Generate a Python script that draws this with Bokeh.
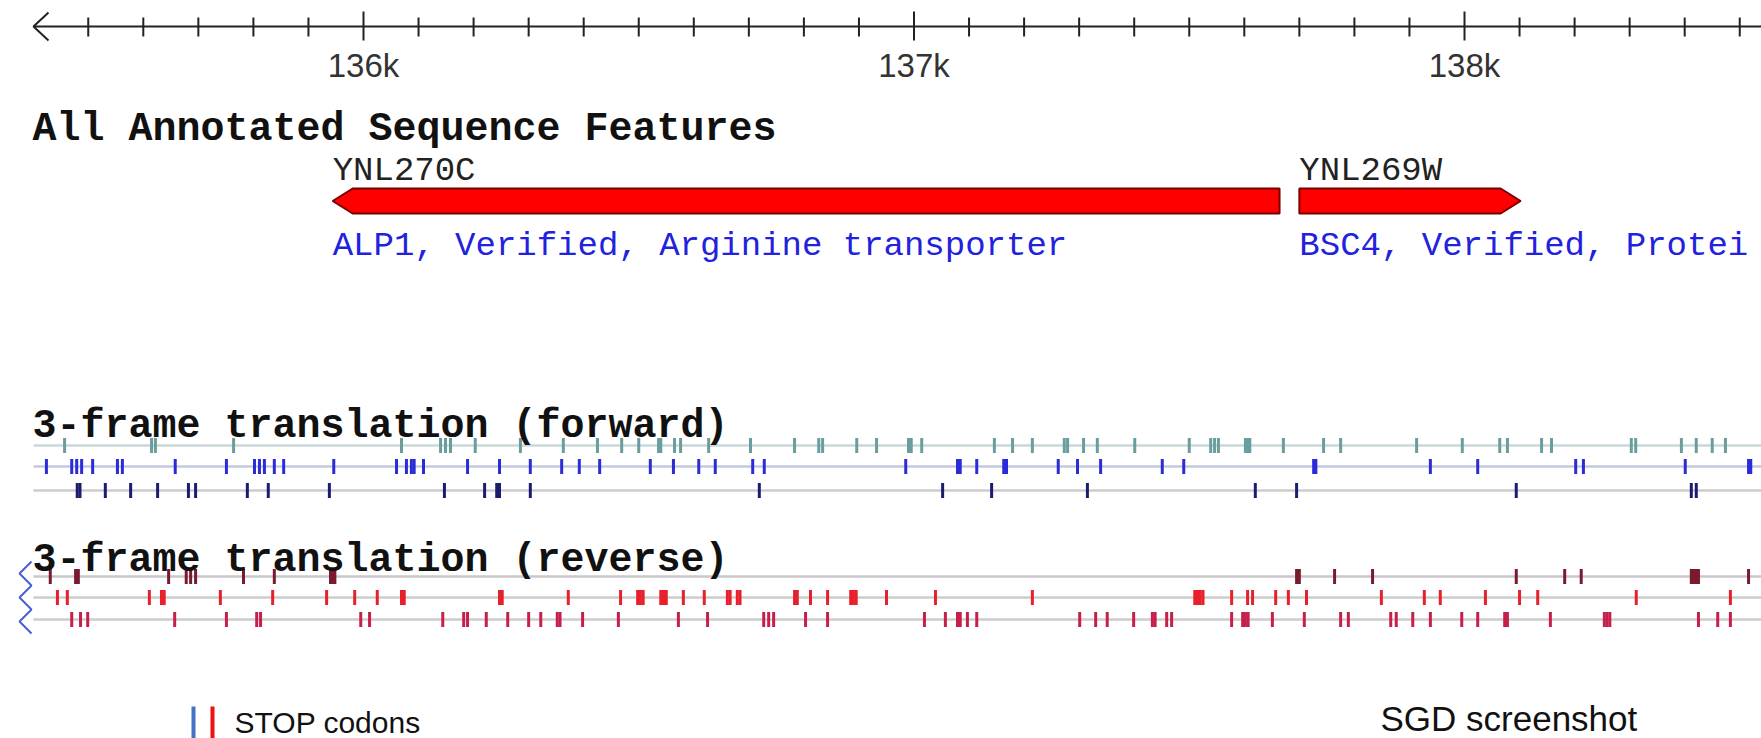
import numpy as np
from bokeh.plotting import figure
from bokeh.models import Range1d, Label
from bokeh.embed import file_html
from bokeh.resources import INLINE
from bokeh.core.properties import value

# ---------------- data (chromosome XIV coordinates, bp) ----------------
ruler_major = [136000, 137000, 138000]
ruler_labels = ["136k", "137k", "138k"]
ruler_minor_step = 100
ruler_first, ruler_last = 135500, 138500

gene_names = ["YNL270C", "YNL269W"]
gene_start = [135944, 137700]
gene_end = [137664, 138102]
gene_strand = [-1, 1]
gene_desc = ["ALP1, Verified, Arginine transporter", "BSC4, Verified, Protei"]

# stop codon positions per reading frame
fwd_frame1 = [135457, 135615, 135622, 135764, 136069, 136140, 136149, 136158, 136203,
              136285, 136363, 136425, 136469, 136500, 136536, 136540, 136565, 136576,
              136627, 136703, 136783, 136827, 136834, 136896, 136932, 136990, 136995,
              137014, 137146, 137179, 137215, 137273, 137279, 137308, 137333, 137401,
              137500, 137539, 137546, 137553, 137602, 137606, 137610, 137671, 137744,
              137775, 137913, 137996, 138064, 138078, 138140, 138158, 138303, 138311,
              138394, 138421, 138450, 138474]
fwd_frame2 = [135424, 135470, 135479, 135488, 135508, 135553, 135562, 135658, 135751,
              135802, 135811, 135820, 135838, 135855, 135946, 136060, 136078, 136087,
              136092, 136109, 136189, 136247, 136303, 136360, 136392, 136429, 136521,
              136563, 136609, 136639, 136707, 136728, 136985, 137079, 137084, 137114,
              137163, 137168, 137262, 137297, 137339, 137451, 137490, 137726, 137730,
              137938, 138024, 138202, 138216, 138401, 138516, 138520]
fwd_frame3 = [135480, 135485, 135531, 135577, 135626, 135682, 135695, 135789, 135827,
              135938, 136147, 136220, 136242, 136247, 136303, 136719, 137052, 137141,
              137315, 137620, 137695, 138094, 138412, 138421]
rev_frame1 = [135431, 135477, 135482, 135646, 135678, 135686, 135695, 135782, 135838,
              135940, 135944, 135948, 137695, 137700, 137764, 137833, 138094, 138182,
              138212, 138412, 138416, 138420, 138425, 138516]
rev_frame2 = [135444, 135462, 135611, 135633, 135638, 135740, 135835, 135933, 135984,
              136025, 136069, 136074, 136247, 136252, 136372, 136467, 136498, 136503,
              136508, 136540, 136545, 136550, 136581, 136619, 136661, 136666, 136679,
              136684, 136783, 136788, 136812, 136843, 136885, 136890, 136895, 136950,
              137039, 137215, 137510, 137515, 137520, 137525, 137577, 137606, 137615,
              137657, 137680, 137713, 137849, 137927, 137956, 138038, 138100, 138133,
              138312, 138483]
rev_frame3 = [135470, 135486, 135499, 135657, 135751, 135806, 135813, 135995, 136011,
              136144, 136182, 136189, 136223, 136262, 136300, 136322, 136352, 136357,
              136398, 136463, 136572, 136625, 136727, 136736, 136745, 136803, 136843,
              137019, 137057, 137079, 137084, 137097, 137114, 137301, 137330, 137351,
              137399, 137433, 137438, 137459, 137468, 137577, 137597, 137602, 137607,
              137651, 137709, 137775, 137789, 137866, 137876, 137906, 137938, 137995,
              138024, 138073, 138078, 138156, 138254, 138259, 138264, 138425, 138460,
              138483]

# ---------------- layout ----------------
W, H = 1761, 738
PX_PER_BP = 0.5505
X0 = 136000 - 363 / PX_PER_BP
X1 = X0 + W / PX_PER_BP


def px2bp(px):
    """page pixel column -> bp (used for layout items only)"""
    return X0 + px / PX_PER_BP


p = figure(width=W, height=H, x_range=Range1d(X0, X1), y_range=Range1d(H, 0),
           output_backend="svg", toolbar_location=None, min_border=0,
           x_axis_location=None, y_axis_location=None)
p.grid.visible = False
p.outline_line_color = None
p.background_fill_color = "white"
p.border_fill_color = "white"

INK = "#222222"
# ---- ruler ----
AX_Y = 26
tip = px2bp(33)
p.segment(x0=[tip], y0=[AX_Y], x1=[X1], y1=[AX_Y], line_color=INK, line_width=2)
p.line(x=[px2bp(48), tip, px2bp(48)], y=[AX_Y - 14, AX_Y, AX_Y + 14], line_color=INK, line_width=2)
minor = [t for t in range(ruler_first, ruler_last + 1, ruler_minor_step) if t not in ruler_major]
p.segment(x0=minor, x1=minor, y0=[AX_Y - 9] * len(minor), y1=[AX_Y + 10] * len(minor),
          line_color=INK, line_width=2)
p.segment(x0=ruler_major, x1=ruler_major, y0=[AX_Y - 15] * 3, y1=[AX_Y + 14] * 3,
          line_color=INK, line_width=2)
p.text(x=ruler_major, y=[65] * 3, text=ruler_labels, text_align="center",
       text_baseline="alphabetic", text_font=value("Liberation Sans"),
       text_font_size="33px", text_color="#333333")

# ---- annotated features ----
mono = value("Liberation Mono")
p.add_layout(Label(x=px2bp(32), y=129, text="All Annotated Sequence Features",
                   text_font="Liberation Mono", text_font_style="bold",
                   text_font_size="40px", text_baseline="alphabetic", text_color="#111111"))

head = 20 / PX_PER_BP
top, bot, mid = 188, 213, 200.5
xs, ys = [], []
for s, e, st in zip(gene_start, gene_end, gene_strand):
    if st < 0:
        xs.append([s, s + head, e, e, s + head])
        ys.append([mid, top, top, bot, bot])
    else:
        xs.append([s, e - head, e, e - head, s])
        ys.append([top, top, mid, bot, bot])
p.patches(xs=xs, ys=ys, fill_color="#ff0000", line_color="#7a0000", line_width=2)

p.text(x=gene_start, y=[170, 170], text=gene_names, text_font=mono,
       text_font_size="34px", text_baseline="alphabetic", text_color="#222222")
p.text(x=gene_start, y=[245, 245], text=gene_desc, text_font=mono,
       text_font_size="34px", text_baseline="alphabetic", text_color="#2222dd")

# ---- 3-frame translations ----
p.add_layout(Label(x=px2bp(32), y=426, text="3-frame translation (forward)",
                   text_font="Liberation Mono", text_font_style="bold",
                   text_font_size="40px", text_baseline="alphabetic", text_color="#111111"))
p.add_layout(Label(x=px2bp(32), y=560, text="3-frame translation (reverse)",
                   text_font="Liberation Mono", text_font_style="bold",
                   text_font_size="40px", text_baseline="alphabetic", text_color="#111111"))

line_x0 = px2bp(33)
rows = [
    (fwd_frame1, 445, "#6a9e9e", "#c9d9d9"),
    (fwd_frame2, 466, "#2b2bd9", "#c4c8dc"),
    (fwd_frame3, 490, "#1c1c6e", "#cccccc"),
    (rev_frame1, 576, "#7a1a30", "#c8c8c8"),
    (rev_frame2, 597, "#e8202c", "#cccccc"),
    (rev_frame3, 619, "#c61f4a", "#cccccc"),
]
for pos, yy, col, lcol in rows:
    p.segment(x0=[line_x0], x1=[X1], y0=[yy], y1=[yy], line_color=lcol, line_width=2.5)
    p.rect(x=pos, y=[yy] * len(pos), width=3, height=15, width_units="screen",
           height_units="screen", fill_color=col, line_color=None)

# reverse-strand zigzag marker
zx = [px2bp(v) for v in (31, 19, 31, 19, 31, 19, 31)]
zy = [561, 573, 585, 597, 609, 621, 633]
p.line(x=zx, y=zy, line_color="#4a5fd6", line_width=2)

# ---- legend / caption ----
p.segment(x0=[px2bp(193), px2bp(212)], x1=[px2bp(193), px2bp(212)], y0=[706, 706],
          y1=[738, 738], line_color=["#4472c4", "#ee1111"], line_width=4)
p.text(x=[px2bp(234)], y=[722], text=["STOP codons"], text_font=value("Liberation Sans"),
       text_font_size="30px", text_baseline="alphabetic", text_color="#111111")
p.text(x=[px2bp(1380)], y=[718], text=["SGD screenshot"], text_font=value("Liberation Sans"),
       text_font_size="35px", text_baseline="alphabetic", text_color="#111111")

open("out.html", "w").write(file_html(p, INLINE))
